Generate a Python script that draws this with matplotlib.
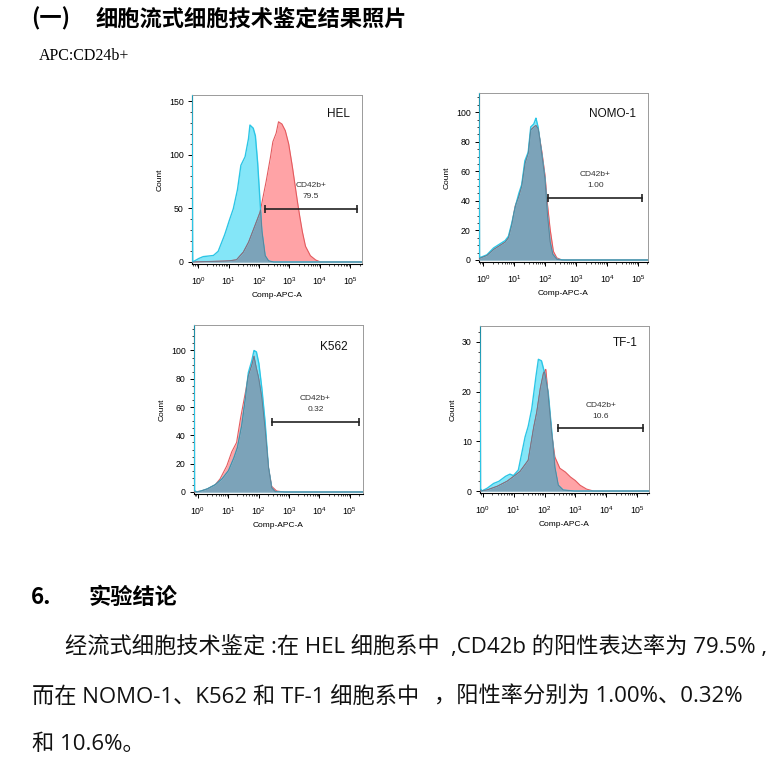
import numpy as np
import matplotlib
matplotlib.use("Agg")
import matplotlib.pyplot as plt
from matplotlib.ticker import LogLocator, MultipleLocator, NullFormatter

plt.rcParams['font.family'] = ['Liberation Sans', 'DejaVu Sans']

# ---- data: histogram traces (x as log10 of Comp-APC-A, y as Count)
hel_blue_x = [-0.2, -0.18, 0.0, 0.16, 0.5, 0.66, 0.77, 0.88, 0.99, 1.15, 1.29, 1.40, 1.54, 1.65,
              1.70, 1.81, 1.88, 1.95, 2.01, 2.09, 2.20, 2.31, 2.47, 5.4]
hel_blue_y = [170, 0, 3, 5, 6, 10, 18, 26, 36, 49, 67, 90, 98, 114,
              128, 125, 118, 95, 67, 30, 6, 1, 0, 0]
hel_red_x = [-0.2, 0.5, 1.0, 1.26, 1.48, 1.65, 1.81, 2.03, 2.20, 2.36, 2.45, 2.56, 2.64, 2.75,
             2.86, 2.97, 3.08, 3.19, 3.30, 3.41, 3.52, 3.68, 3.85, 4.01, 5.4]
hel_red_y = [0, 0.5, 1, 2, 9, 18, 30, 46, 70, 95, 112, 120, 131, 129,
             123, 111, 92, 70, 49, 30, 15, 6, 2, 0, 0]

nomo_blue_x = [-0.14, -0.125, -0.11, 0.11, 0.32, 0.54, 0.70, 0.81, 0.91, 1.02, 1.13, 1.24, 1.34,
               1.45, 1.53, 1.63, 1.70, 1.77, 1.88, 1.99, 2.06, 2.15, 2.24, 2.37, 2.58, 5.4]
nomo_blue_y = [120, 2, 1.6, 3.4, 8, 11, 13, 16, 24, 35, 44, 51, 67,
               73, 90, 92, 96, 90, 73, 55, 33, 13, 4, 0.5, 0, 0]
nomo_red_x = [-0.14, 0.11, 0.32, 0.54, 0.70, 0.81, 0.91, 1.02, 1.13, 1.24, 1.34, 1.45, 1.53,
              1.63, 1.70, 1.77, 1.88, 1.99, 2.06, 2.15, 2.26, 2.37, 2.53, 5.4]
nomo_red_y = [1, 3, 7, 10, 12, 15, 23, 36, 42, 50, 65, 72, 88,
              90, 91, 89, 75, 58, 40, 22, 6, 1.5, 0, 0]

k562_blue_x = [-0.12, -0.105, -0.03, 0.08, 0.30, 0.57, 0.79, 1.01, 1.17, 1.30, 1.44, 1.55, 1.66,
               1.77, 1.85, 1.93, 2.01, 2.10, 2.21, 2.32, 2.43, 2.54, 2.81, 5.4]
k562_blue_y = [118, 1, 0, 0.5, 2, 5, 9, 15, 23, 31, 46, 63, 84,
               92, 100, 99, 91, 75, 51, 18, 3, 0.3, 0, 0]
k562_red_x = [-0.12, 0.08, 0.30, 0.57, 0.73, 0.95, 1.11, 1.28, 1.39, 1.55, 1.66, 1.77, 1.85,
              1.91, 1.99, 2.10, 2.21, 2.32, 2.43, 2.59, 2.81, 5.4]
k562_red_y = [0, 0.5, 2, 5, 9, 18, 28, 35, 50, 68, 82, 89, 96,
              89, 82, 68, 46, 18, 4, 0.7, 0, 0]

tf1_blue_x = [-0.09, -0.075, -0.03, 0.13, 0.34, 0.51, 0.72, 0.88, 0.99, 1.15, 1.26, 1.37, 1.47,
              1.58, 1.69, 1.80, 1.90, 2.01, 2.12, 2.23, 2.33, 2.44, 2.60, 2.92, 5.4]
tf1_blue_y = [33, 0.5, 0, 0.5, 1.5, 1.9, 2.9, 3.4, 3.1, 4.2, 7.6, 10.9, 13,
              16.3, 21.7, 26.5, 26.2, 23.6, 19.7, 12.3, 4.9, 1.2, 0.2, 0, 0]
tf1_red_x = [-0.09, 0.13, 0.45, 0.77, 0.99, 1.20, 1.47, 1.63, 1.74, 1.85, 1.96, 2.04, 2.12,
             2.23, 2.33, 2.49, 2.66, 2.82, 2.98, 3.14, 3.35, 3.57, 5.4]
tf1_red_y = [0, 0.2, 0.9, 1.9, 2.9, 3.9, 6.2, 12.3, 15.6, 20.3, 23.7, 24.5, 19,
             11.6, 6.9, 4.6, 3.9, 2.9, 2.2, 1.2, 0.4, 0, 0]

panel_names = ["HEL", "NOMO-1", "K562", "TF-1"]
gate_pct = ["79.5", "1.00", "0.32", "10.6"]
gate_start = [2.18, 2.10, 2.45, 2.44]
gate_end = [5.22, 5.14, 5.29, 5.20]
gate_level = [49.5, 42, 49.5, 12.6]
y_max = [156, 113, 118, 33.2]
y_major = [50, 20, 20, 10]
y_minor = [10, 5, 5, 2]
x_lim = [(-0.2, 5.38), (-0.14, 5.32), (-0.12, 5.43), (-0.09, 5.38)]

blues = [(hel_blue_x, hel_blue_y), (nomo_blue_x, nomo_blue_y),
         (k562_blue_x, k562_blue_y), (tf1_blue_x, tf1_blue_y)]
reds = [(hel_red_x, hel_red_y), (nomo_red_x, nomo_red_y),
        (k562_red_x, k562_red_y), (tf1_red_x, tf1_red_y)]

# axes boxes in pixels: left, top, right, bottom
boxes = [(192, 95, 362, 264), (479, 93, 648, 262),
         (194, 325, 363, 494), (480, 326, 649, 493)]
# where the sample name sits, in axes fractions
name_pos = [(0.86, 0.89), (0.79, 0.875), (0.83, 0.87), (0.86, 0.90)]

W, H = 780, 765
fig = plt.figure(figsize=(W / 100, H / 100), dpi=100)

cjk = ['Noto Sans CJK SC', 'DejaVu Sans']
body = ['Open Sans', 'Noto Sans CJK SC', 'DejaVu Sans']

# ---- header texts
fig.text(31 / W, 1 - 19 / H, "(一)", family=cjk, fontsize=16, weight="bold", va="center")
fig.text(96 / W, 1 - 19 / H, "细胞流式细胞技术鉴定结果照片", family=cjk, fontsize=16,
         weight="bold", va="center")
fig.text(39 / W, 1 - 56 / H, "APC:CD24b+", family=['Liberation Serif'], fontsize=11.5, va="center")

for i in range(4):
    l, t, r, b = boxes[i]
    ax = fig.add_axes([l / W, 1 - b / H, (r - l) / W, (b - t) / H])
    bx, by = blues[i]
    rx, ry = reds[i]
    x0, x1 = x_lim[i]

    # common grid so the overlap can be coloured
    g = np.linspace(x0, x1, 1500)
    gb = np.interp(g, bx, by)
    gr = np.interp(g, rx, ry)
    gx = 10 ** g

    ax.fill_between(gx, 0, gr, color="#ffa3a6", lw=0, zorder=3)
    ax.fill_between(gx, 0, gb, color="#84e6f8", lw=0, zorder=3)
    ax.plot(gx, gr, color="#e35a5e", lw=0.8, zorder=3)
    ax.plot(gx, gb, color="#2cc6e6", lw=1.0, zorder=3)
    ax.fill_between(gx, 0, np.minimum(gb, gr), color="#7ca3b9", lw=0, zorder=3)
    ax.plot(gx, np.minimum(gb, gr), color="#5b7f94", lw=0.6, zorder=3)

    ax.set_xscale("log")
    ax.set_xlim(10 ** x0, 10 ** x1)
    ax.set_ylim(-y_max[i] * 0.012, y_max[i])

    # gate bar
    ax.plot([10 ** gate_start[i], 10 ** gate_end[i]], [gate_level[i]] * 2,
            color="#222222", lw=1.2, marker="|", ms=6, mew=1.2, zorder=4)
    gx_mid = 10 ** ((gate_start[i] + gate_end[i]) / 2)
    ax.text(gx_mid, gate_level[i] + y_max[i] * 0.14, "CD42b+", fontsize=6,
            ha="center", va="center", color="#333333")
    ax.text(gx_mid, gate_level[i] + y_max[i] * 0.075, gate_pct[i], fontsize=6,
            ha="center", va="center", color="#333333")
    nx, ny = name_pos[i]
    ax.text(nx, ny, panel_names[i], transform=ax.transAxes, fontsize=8.5,
            ha="center", va="center", color="#111111")

    ax.xaxis.set_major_locator(LogLocator(base=10, numticks=10))
    ax.xaxis.set_minor_locator(LogLocator(base=10, subs=np.arange(2, 10), numticks=10))
    ax.xaxis.set_minor_formatter(NullFormatter())
    ax.yaxis.set_major_locator(MultipleLocator(y_major[i]))
    ax.yaxis.set_minor_locator(MultipleLocator(y_minor[i]))
    ax.tick_params(which="major", direction="out", length=3, width=0.7, labelsize=6.3, pad=3)
    ax.tick_params(which="minor", direction="out", length=1.6, width=0.5)
    ax.tick_params(axis="x", which="major", pad=5)
    for s in ["top", "right"]:
        ax.spines[s].set_color("#9a9a9a")
        ax.spines[s].set_linewidth(0.7)
    for s in ["left", "bottom"]:
        ax.spines[s].set_linewidth(0.8)
    ax.set_xlabel("Comp-APC-A", fontsize=6, labelpad=4)
    ax.set_ylabel("Count", fontsize=6, labelpad=4)

# ---- conclusion section
fig.text(31 / W, 1 - 597 / H, "6.", family=cjk, fontsize=16, weight="bold", va="center")
fig.text(88 / W, 1 - 597 / H, "实验结论", family=cjk, fontsize=16, weight="bold", va="center")

# word-processor spacing: a few runs, each placed where it starts on the page
line1 = [(65, "经流式细胞技术鉴定 :在 HEL 细胞系中"), (451, ",CD42b 的阳性表达率为 79.5% ,")]
line2 = [(32, "而在 NOMO-1、K562 和 TF-1 细胞系中"), (434, "，阳性率分别为 1.00%、0.32%")]
line3 = [(32, "和 10.6%。")]
for y, runs in [(647, line1), (697, line2), (745, line3)]:
    for x, s in runs:
        fig.text(x / W, 1 - y / H, s, family=body, fontsize=16, va="center", color="#111111")

fig.savefig("out.png", dpi=100)
